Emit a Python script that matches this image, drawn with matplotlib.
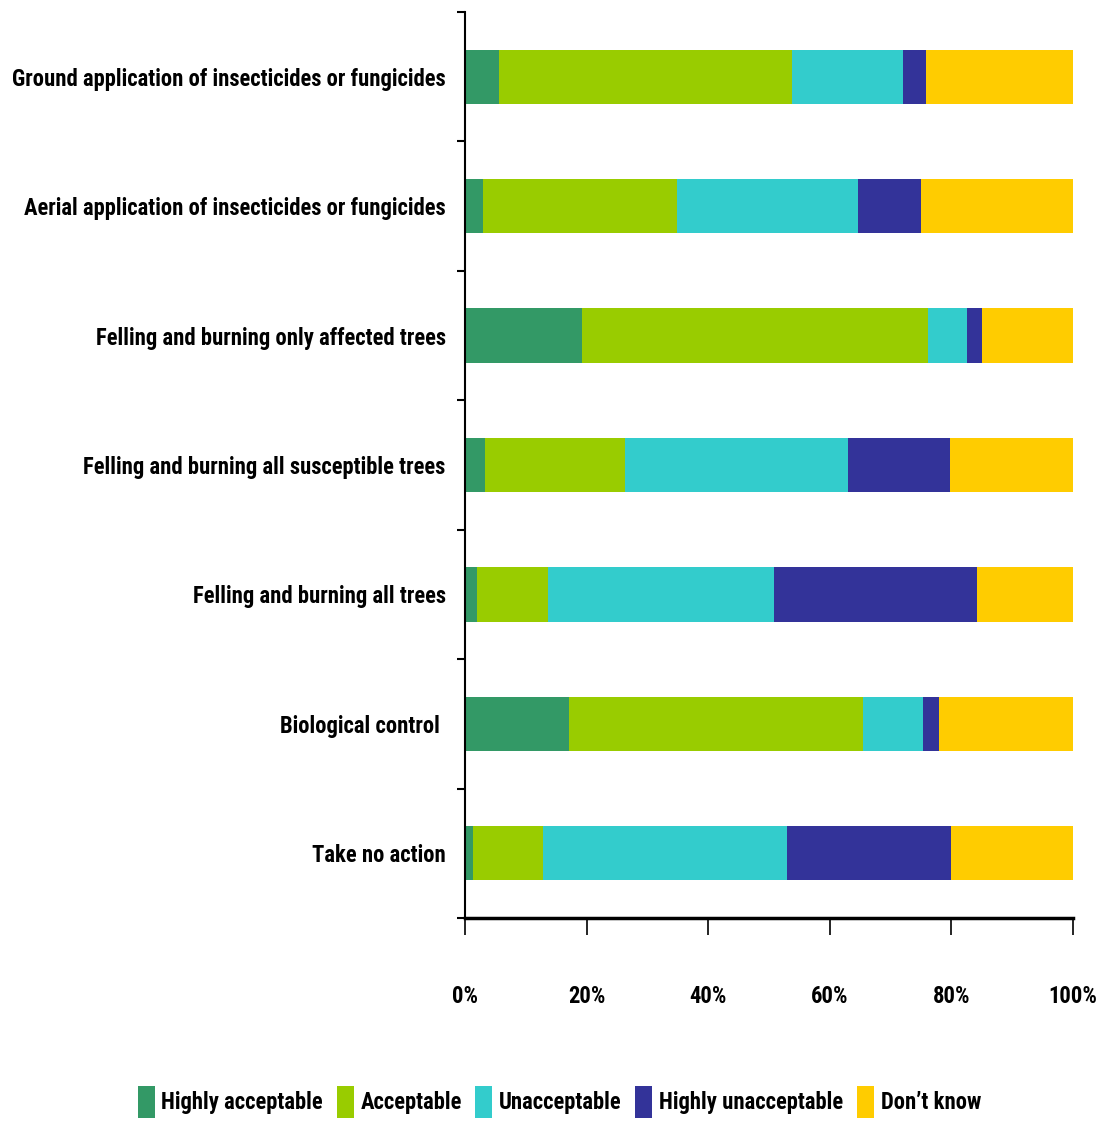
import numpy as np
import matplotlib
matplotlib.use('Agg')
import matplotlib.pyplot as plt
from matplotlib import font_manager

# narrowest bold-ish family we can find
names = sorted({f.name for f in font_manager.fontManager.ttflist})
wanted = ['Liberation Sans Narrow', 'DejaVu Sans Condensed', 'Roboto Condensed',
          'Open Sans Condensed', 'Noto Sans Condensed', 'Noto Sans Display',
          'Liberation Sans']
narrow = [n for n in names if 'Condensed' in n or 'Narrow' in n]
family = next((n for n in wanted if n in names), narrow[0] if narrow else 'DejaVu Sans')
plt.rcParams['font.family'] = [family, 'DejaVu Sans']
plt.rcParams['font.weight'] = 'bold'

categories = [
    'Ground application of insecticides or fungicides',
    'Aerial application of insecticides or fungicides',
    'Felling and burning only affected trees',
    'Felling and burning all susceptible trees',
    'Felling and burning all trees',
    'Biological control ',
    'Take no action',
]
series = ['Highly acceptable', 'Acceptable', 'Unacceptable', 'Highly unacceptable', "Don\u2019t know"]
highly_acceptable = [5.6, 3.0, 19.2, 3.3, 2.0, 17.1, 1.3]
acceptable = [48.2, 31.9, 57.0, 23.0, 11.6, 48.4, 11.5]
unacceptable = [18.2, 29.7, 6.4, 36.7, 37.2, 9.8, 40.2]
highly_unacceptable = [3.8, 10.4, 2.4, 16.8, 33.4, 2.7, 26.9]
dont_know = [24.2, 25.0, 15.0, 20.2, 15.8, 22.0, 20.1]
colors = ['#339966', '#99CC00', '#33CCCC', '#333399', '#FFCC00']

data = [highly_acceptable, acceptable, unacceptable, highly_unacceptable, dont_know]

fig = plt.figure(figsize=(11.01, 11.21), dpi=100)
ax = fig.add_axes([0.4223, 0.1811, 0.5522, 0.8082])

# pick a font size so the longest label is ~433 px wide, like the reference
renderer = fig.canvas.get_renderer()
probe = fig.text(0, 0, categories[0], fontsize=20, fontweight='bold')
w = probe.get_window_extent(renderer).width
probe.remove()
fs = 20 * 433 / w

y = np.arange(len(categories))
left = np.zeros(len(categories))
for vals, name, c in zip(data, series, colors):
    ax.barh(y, vals, left=left, height=0.42, color=c, label=name)
    left += np.array(vals)

ax.set_xlim(0, 100)
ax.set_ylim(len(categories) - 0.5, -0.5)

ax.set_yticks(y)
ax.set_yticklabels(categories, fontsize=fs)
ax.set_yticks(np.arange(-0.5, len(categories)), minor=True)
ax.tick_params(axis='y', which='major', length=0, pad=14)
ax.tick_params(axis='y', which='minor', length=6, width=1.5, direction='out')

ax.set_xticks(np.arange(0, 101, 20))
ax.set_xticklabels([f'{v}%' for v in range(0, 101, 20)], fontsize=fs)
ax.tick_params(axis='x', length=12, width=1.2, pad=36)

for s in ['top', 'right']:
    ax.spines[s].set_visible(False)
ax.spines['left'].set_linewidth(1.5)
ax.spines['bottom'].set_linewidth(2.5)

fig.legend(loc='center', bbox_to_anchor=(0.508, 0.017), ncol=5, frameon=False,
           fontsize=fs, handlelength=0.75, handleheight=1.8, handletextpad=0.3,
           columnspacing=0.6)

fig.savefig('out.png', dpi=100)
